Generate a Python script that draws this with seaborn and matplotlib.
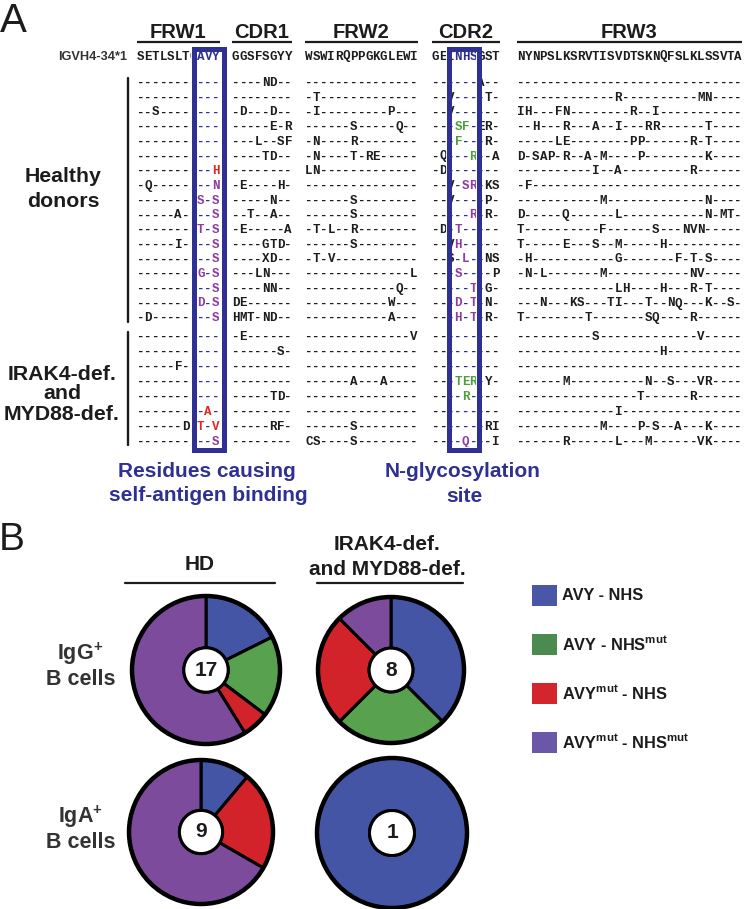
import seaborn as sns
import matplotlib.pyplot as plt
from matplotlib.patches import Rectangle, Circle

sns.set_theme(style="white")
plt.rcParams['font.family'] = ['Liberation Sans', 'DejaVu Sans']
plt.rcParams['mathtext.fontset'] = 'custom'
plt.rcParams['mathtext.rm'] = 'Liberation Sans'
plt.rcParams['mathtext.bf'] = 'Liberation Sans:bold'

# ---------------- panel A: IGHV4-34 alignment ----------------
regions = ['FRW1', 'CDR1', 'FRW2', 'CDR2', 'FRW3']
germline = ['SETLSLTCAVY', 'GGSFSGYY', 'WSWIRQPPGKGLEWI', 'GEINHSGST',
            'NYNPSLKSRVTISVDTSKNQFSLKLSSVTA']

hd_frw1 = ['-----------', '-----------', '--S--------', '-----------',
           '-----------', '-----------', '----------H', '-Q--------N',
           '--------S-S', '-----A----S', '--------T-S', '-----I----S',
           '----------S', '--------G-S', '----------S', '--------D-S',
           '-D--------S']
hd_cdr1 = ['----ND--', '--------', '-D---D--', '-----E-R', '---L--SF',
           '----TD--', '--------', '-E----H-', '-----N--', '--T--A--',
           '-E-----A', '----GTD-', '----XD--', '---LN---', '----NN--',
           'DE------', 'HMT-ND--']
hd_frw2 = ['---------------', '-T-------------', '-I---------P---',
           '------S-----Q--', '-N----R--------', '-N----T-RE-----',
           'LN-------------', '---------------', '------S--------',
           '------S--------', '-T-L--R--------', '------S--------',
           '-T-V-----------', '--------------L', '------------Q--',
           '-----------W---', '-----------A---']
hd_cdr2 = ['------A--', '--V----T-', '--V------', '---SF-ER-', '---F---R-',
           '-Q---R--A', '-D-------', '--V-SR-KS', '--V----P-', '-----R-R-',
           '-D-T-----', '--VH-----', '--S-L--NS', '---S----P', '-----T-G-',
           '---D-T-N-', '---H-T-R-']
hd_frw3 = ['------------------------------',
           '-------------R----------MN----',
           'IH---FN--------R--I-----------',
           '--H---R---A--I---RR------T----',
           '-----LE--------PP------R-T----',
           'D-SAP-R--A-M----P--------K----',
           '----------I--A---------R------',
           '-F----------------------------',
           '-----------M-------------N----',
           'D-----Q------L-----------N-MT-',
           'T----------F------S---NVN-----',
           'T-----E---S--M-----H----------',
           '-H-----------G-------F-T-S----',
           '-N-L-------M-----------NV-----',
           '-------------LH----H---R-T----',
           '---N---KS---TI---T--NQ---K--S-',
           'T--------T-------SQ----R------']
hd_class = ['', '', '', 'g', 'g', 'g', 'r', 'p', 'p', 'p', 'p', 'p', 'p',
            'p', 'p', 'p', 'p']

pid_frw1 = ['-----------', '-----------', '-----F-----', '-----------',
            '-----------', '---------A-', '------D-T-V', '----------S']
pid_cdr1 = ['-E------', '------S-', '--------', '--------', '-----TD-',
            '--------', '-----RF-', '--------']
pid_frw2 = ['--------------V', '---------------', '---------------',
            '------A---A----', '---------------', '---------------',
            '------S--------', 'CS----S--------']
pid_cdr2 = ['---------', '---------', '---------', '---TER-Y-', '----R----',
            '---------', '-------RI', '----Q---I']
pid_frw3 = ['----------S-------------V-----',
            '-------------------H----------',
            '------------------------------',
            '------M----------N--S---VR----',
            '----------------T------R------',
            '-------------I----------------',
            '-----------M----P-S--A---K----',
            '------R------L---M------VK----']
pid_class = ['', '', '', 'g', 'g', 'r', 'r', 'p']

# ---------------- panel B: pies ----------------
categories = ['AVY - NHS', 'AVY - NHS$^{\\mathbf{mut}}$',
              'AVY$^{\\mathbf{mut}}$ - NHS',
              'AVY$^{\\mathbf{mut}}$ - NHS$^{\\mathbf{mut}}$']
hd_igg = [3, 3, 1, 10]
pid_igg = [3, 2, 2, 1]
hd_iga = [1, 0, 2, 6]
pid_iga = [1, 0, 0, 0]

# ---------------- styling ----------------
ink = '#1c1c1c'
navy = '#2e3192'
mut_col = {'r': '#e0261f', 'p': '#8e3ba3', 'g': '#4f9e3c'}
pie_cols = sns.color_palette(['#4455a5', '#58a14e', '#d2232a', '#7c4b9b'])
leg_cols = sns.color_palette(['#4a57a7', '#4b8b4f', '#d2262c', '#6a57a7'])

W, H = 744, 909
fig = plt.figure(figsize=(W / 100, H / 100), dpi=100)
fig.patch.set_facecolor('white')
ax = fig.add_axes([0, 0, 1, 1])
ax.set_xlim(0, W)
ax.set_ylim(H, 0)
ax.axis('off')

seg_x0 = [137, 232, 305, 432, 517]
cw = 7.5
boxed = {0: (8, 9, 10), 3: (3, 4, 5)}
mono = dict(family='Liberation Mono', fontweight='bold', fontsize=9,
            ha='center', va='center')


def draw_seq(segs, y, cls, germ=False):
    for s, seq in enumerate(segs):
        for i, ch in enumerate(seq):
            col = ink
            if s in boxed and i in boxed[s]:
                col = navy if (ch == '-' or germ) else mut_col[cls]
            ax.text(seg_x0[s] + cw * (i + 0.5), y, ch, color=col, **mono)


# headers + underlines
for s, name in enumerate(regions):
    x0 = seg_x0[s]
    x1 = x0 + cw * len(germline[s])
    ax.text((x0 + x1) / 2, 37.5, name, ha='center', va='baseline',
            fontsize=14.5, fontweight='bold', color=ink)
    ax.plot([x0, x1], [42, 42], color=ink, lw=1.6, solid_capstyle='butt')

ax.text(127, 60.5, 'IGVH4-34*1', ha='right', va='baseline', fontsize=9.2,
        fontweight='bold', color='#333333')
draw_seq(germline, 56.5, '', germ=True)

hd_rows = list(zip(hd_frw1, hd_cdr1, hd_frw2, hd_cdr2, hd_frw3))
for k, segs in enumerate(hd_rows):
    draw_seq(segs, 83 + 14.7 * k, hd_class[k])
pid_rows = list(zip(pid_frw1, pid_cdr1, pid_frw2, pid_cdr2, pid_frw3))
for k, segs in enumerate(pid_rows):
    draw_seq(segs, 337 + 15 * k, pid_class[k])

# group brackets and labels
ax.plot([128, 128], [78, 322], color=ink, lw=1.7)
ax.plot([128, 128], [332, 445], color=ink, lw=1.7)
lab = dict(ha='center', va='baseline', fontsize=15.3, fontweight='bold',
           color=ink)
ax.text(63, 181.7, 'Healthy', **lab)
ax.text(63, 206.7, 'donors', **lab)
ax.text(62, 380, 'IRAK4-def.', **lab)
ax.text(62, 399, 'and', **lab)
ax.text(62, 420, 'MYD88-def.', **lab)

# highlight boxes
for s, (a, b) in [(0, (7.6, 11.6)), (3, (2.2, 6.3))]:
    xa, xb = seg_x0[s] + cw * a, seg_x0[s] + cw * b
    ax.add_patch(Rectangle((xa, 48.5), xb - xa, 401, fill=False, ec='white',
                           lw=4.2, zorder=4))
    ax.add_patch(Rectangle((xa, 48.5), xb - xa, 401, fill=False, ec=navy,
                           lw=3.6, zorder=5))

ann = dict(ha='center', va='baseline', fontsize=15, fontweight='bold',
           color=navy)
ax.text(207, 476.7, 'Residues causing', **ann)
ax.text(208, 500.7, 'self-antigen binding', **ann)
ax.text(463, 476.7, 'N-glycosylation', **ann)
ax.text(464, 501.7, 'site', **ann)

ax.text(0, 32, 'A', fontsize=29, va='baseline', ha='left', color=ink)
ax.text(-1, 550, 'B', fontsize=28, va='baseline', ha='left', color=ink)

# panel B headers
hb = dict(ha='center', va='baseline', fontsize=15, fontweight='bold',
          color=ink)
ax.text(200, 570, 'HD', **hb)
ax.plot([125, 275], [583, 583], color=ink, lw=1.6)
ax.text(387, 550, 'IRAK4-def.', **hb)
ax.text(387, 575, 'and MYD88-def.', **hb)
ax.plot([317, 463], [583, 583], color=ink, lw=1.6)

rl = dict(ha='center', va='baseline', fontsize=15.5, fontweight='bold',
          color='#333333')
ax.text(80, 660, 'IgG$^{\\mathbf{+}}$', **rl)
ax.text(81, 685, 'B cells', **rl)
ax.text(80, 823, 'IgA$^{\\mathbf{+}}$', **rl)
ax.text(81, 848.5, 'B cells', **rl)


def draw_pie(cx, cy, r, counts):
    pax = fig.add_axes([(cx - 1.25 * r) / W, 1 - (cy + 1.25 * r) / H,
                        2.5 * r / W, 2.5 * r / H])
    vals = [c for c in counts if c > 0]
    cols = [pie_cols[i] for i, c in enumerate(counts) if c > 0]
    pax.pie(vals, colors=cols, startangle=90, counterclock=False,
            wedgeprops=dict(width=0.7, edgecolor='black', linewidth=2.2))
    pax.add_patch(Circle((0, 0), 1, fill=False, ec='black', lw=3.2, zorder=3))
    pax.add_patch(Circle((0, 0), 0.3, fc='white', ec='black', lw=2.2,
                         zorder=3))
    pax.text(0, 0, str(sum(counts)), ha='center', va='center', fontsize=15,
             fontweight='bold', color=ink, zorder=4)
    pax.set_xlim(-1.25, 1.25)
    pax.set_ylim(-1.25, 1.25)
    pax.axis('off')


draw_pie(206, 670, 74, hd_igg)
draw_pie(391, 670, 73, pid_igg)
draw_pie(201, 832, 72, hd_iga)
draw_pie(392, 833, 75, pid_iga)

# legend
for k, name in enumerate(categories):
    yc = 595 + 49.3 * k
    ax.add_patch(Rectangle((532, yc - 10.5), 24.5, 21, fc=leg_cols[k],
                           ec='none'))
    ax.text(562, yc + 5.5, name, ha='left', va='baseline', fontsize=11.8,
            fontweight='bold', color=ink)

fig.savefig('out.png', dpi=100, facecolor='white')
